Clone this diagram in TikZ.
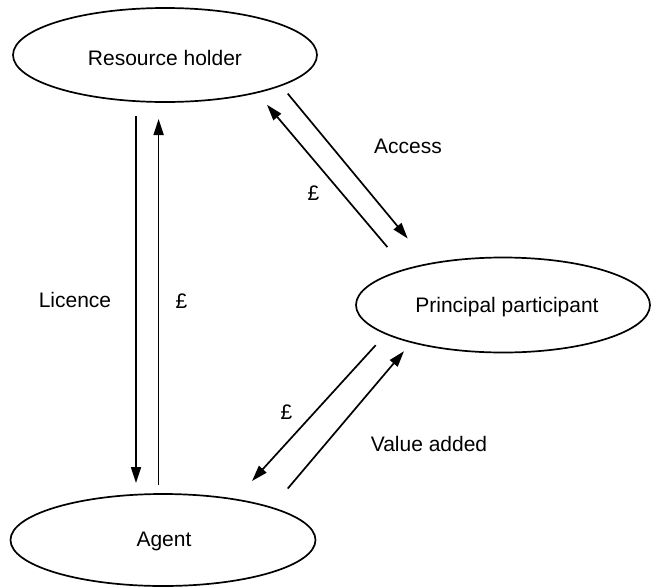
\documentclass[tikz,border=0pt]{standalone}
\usepackage{fontspec}
\setmainfont{Liberation Sans}
\usetikzlibrary{shapes.geometric,arrows.meta}
\begin{document}
\begin{tikzpicture}[x=1pt,y=-1pt,
  party/.style={draw,line width=1.7pt,ellipse,inner sep=0pt},
  flow/.style={line width=1.7pt,-{Triangle[length=16pt,width=10pt]}},
  lbl/.style={font=\fontsize{21}{25}\selectfont,inner sep=1pt}]
\useasboundingbox (0,0) rectangle (651,587);

% the three parties
\node[party,minimum width=304,minimum height=94] (rh) at (165,55) {};
\node[lbl] at (165,58) {Resource holder};
\node[party,minimum width=294,minimum height=95] (pp) at (503,305) {};
\node[lbl] at (507,307) {Principal participant};
\node[party,minimum width=305,minimum height=92] (ag) at (163,540) {};
\node[lbl] at (164,541) {Agent};

% end points of the flows
\coordinate (l1) at (136,116);    \coordinate (l2) at (136,483);
\coordinate (p1) at (158.6,485);  \coordinate (p2) at (158.6,119);
\coordinate (a1) at (287.7,93.6); \coordinate (a2) at (407.7,238.5);
\coordinate (b1) at (387.4,247.1);\coordinate (b2) at (267,104.8);
\coordinate (c1) at (375.7,345.2);\coordinate (c2) at (252,481);
\coordinate (d1) at (287.7,488.6);\coordinate (d2) at (404,351.2);

% flows between the parties
\draw[flow] (l1) -- (l2);
\draw[flow] (p1) -- (p2);
\draw[flow] (a1) -- (a2);
\draw[flow] (b1) -- (b2);
\draw[flow] (c1) -- (c2);
\draw[flow] (d1) -- (d2);

% flow labels
\node[lbl] (tlic) at (75,300) {Licence};
\node[lbl] (tp1) at (181.4,301) {£};
\node[lbl] (tacc) at (408,146) {Access};
\node[lbl] (tp2) at (313.5,193) {£};
\node[lbl] (tp3) at (286.5,412) {£};
\node[lbl] (tval) at (429,443.6) {Value added};
\end{tikzpicture}
\end{document}
